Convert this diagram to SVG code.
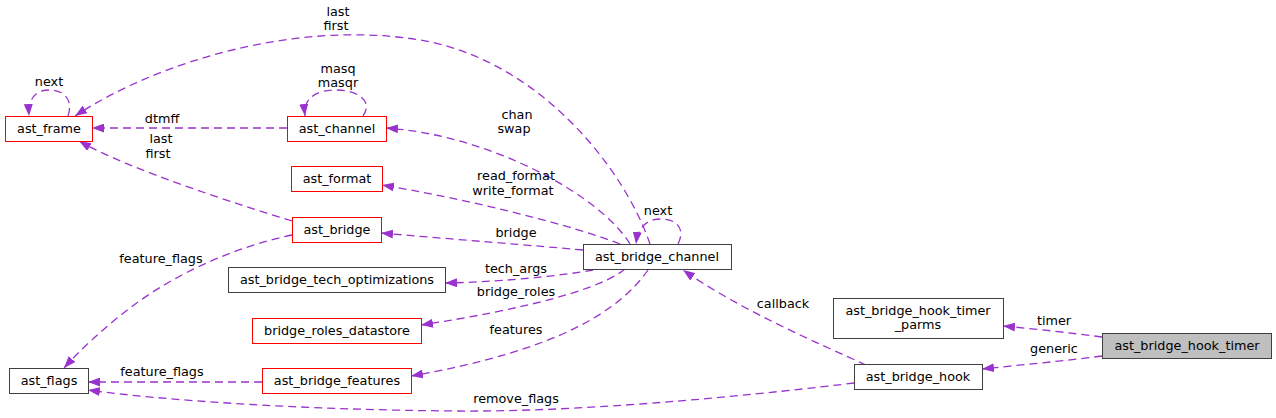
<svg xmlns="http://www.w3.org/2000/svg" width="1276" height="418" viewBox="0 0 1276 418">
<style>
text{font-family:"DejaVu Sans","Liberation Sans",sans-serif;font-size:12.8px;fill:#000;text-anchor:middle}
.n rect{fill:#fff;stroke:#404040;stroke-width:1}
.r rect{stroke:#ff0000}
.g rect{fill:#bfbfbf}
.e path{fill:none;stroke:#9a32cd;stroke-width:1.3;stroke-dasharray:8,5;marker-end:url(#ah)}
</style>
<defs>
<marker id="ah" viewBox="0 0 12 9" refX="12" refY="4.5" markerWidth="12" markerHeight="9" markerUnits="userSpaceOnUse" orient="auto">
<path d="M0,0 L12,4.5 L0,9 z" fill="#9a32cd" stroke="none"/>
</marker>
</defs>
<rect width="1276" height="418" fill="#fff"/>
<g id="edges" class="e">
<path d="M1102,337 C1072,333 1036,329 1003,326"/>
<text x="1054" y="325">timer</text>
<path d="M1102,356 C1064,361 1020,365 982,369"/>
<text x="1054" y="353">generic</text>
<path d="M866,365 C820,344 740,310 683,270"/>
<text x="783" y="308">callback</text>
<path d="M854,383 C780,392 600,412 460,411 C300,410 160,400 88,390"/>
<text x="516" y="403">remove_flags</text>
<path d="M262,382 L88,382"/>
<text x="162" y="376">feature_flags</text>
<path d="M292,235 C240,246 180,270 130,308 C105,327 82,348 64,368"/>
<text x="161" y="263">feature_flags</text>
<path d="M292,221 C240,205 130,170 79,141"/>
<text x="161" y="143">last</text>
<text x="158" y="158">first</text>
<path d="M287,128 L92,128"/>
<text x="162" y="123">dtmff</text>
<path d="M68,116 C74,98 62,90 49,90 C36,90 28,98 29,116"/>
<text x="49" y="86">next</text>
<path d="M363,116 C374,100 356,90 336,90 C316,90 303,98 305,116"/>
<text x="338" y="73">masq</text>
<text x="338" y="87">masqr</text>
<path d="M650,244 C625,170 540,60 420,40 C300,20 160,60 75,116"/>
<text x="338" y="16">last</text>
<text x="336" y="30">first</text>
<path d="M630,244 C600,195 490,135 386,128"/>
<text x="517" y="119">chan</text>
<text x="514" y="133">swap</text>
<path d="M620,244 C590,232 500,205 382,185"/>
<text x="516" y="180">read_format</text>
<text x="513" y="195">write_format</text>
<path d="M583,250 C540,246 450,239 381,233"/>
<text x="516" y="237">bridge</text>
<path d="M593,270 C560,276 500,282 445,283"/>
<text x="516" y="273">tech_args</text>
<path d="M625,269 C600,290 520,310 421,325"/>
<text x="516" y="296">bridge_roles</text>
<path d="M648,270 C620,310 560,350 411,376"/>
<text x="516" y="334">features</text>
<path d="M678,244 C686,228 676,219 661,219 C648,219 638,226 636,244"/>
<text x="658" y="215">next</text>
</g>
<g id="ast_frame" class="n r"><rect x="5.5" y="116.5" width="87" height="25"/><text x="49" y="133">ast_frame</text></g>
<g id="ast_channel" class="n r"><rect x="287.5" y="116.5" width="99" height="25"/><text x="337" y="133">ast_channel</text></g>
<g id="ast_format" class="n r"><rect x="291.5" y="166.5" width="91" height="25"/><text x="337" y="183">ast_format</text></g>
<g id="ast_bridge" class="n r"><rect x="292.5" y="217.5" width="89" height="25"/><text x="337" y="234">ast_bridge</text></g>
<g id="ast_bridge_tech_optimizations" class="n"><rect x="228.5" y="267.5" width="217" height="25"/><text x="337" y="284">ast_bridge_tech_optimizations</text></g>
<g id="bridge_roles_datastore" class="n r"><rect x="252.5" y="318.5" width="169" height="25"/><text x="337" y="335">bridge_roles_datastore</text></g>
<g id="ast_flags" class="n"><rect x="9.5" y="368.5" width="79" height="25"/><text x="49" y="385">ast_flags</text></g>
<g id="ast_bridge_features" class="n r"><rect x="262.5" y="368.5" width="149" height="25"/><text x="337" y="385">ast_bridge_features</text></g>
<g id="ast_bridge_channel" class="n"><rect x="583.5" y="244.5" width="148" height="25"/><text x="657" y="261">ast_bridge_channel</text></g>
<g id="ast_bridge_hook_timer_parms" class="n"><rect x="833.5" y="298.5" width="170" height="40"/><text x="918" y="315">ast_bridge_hook_timer</text><text x="918" y="329">_parms</text></g>
<g id="ast_bridge_hook_timer" class="n g"><rect x="1102.5" y="333.5" width="169" height="25"/><text x="1187" y="350">ast_bridge_hook_timer</text></g>
<g id="ast_bridge_hook" class="n"><rect x="854.5" y="364.5" width="128" height="25"/><text x="918" y="381">ast_bridge_hook</text></g>
</svg>
